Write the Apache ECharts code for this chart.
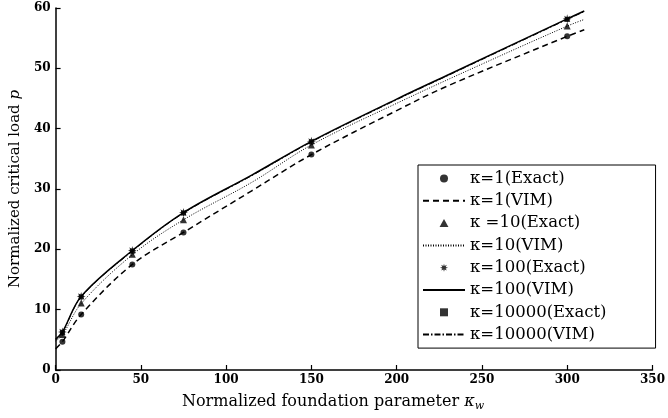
<!DOCTYPE html>
<html>
<head>
<meta charset="utf-8">
<script src="https://cdn.jsdelivr.net/npm/echarts@6/dist/echarts.min.js"></script>
<style>html,body{margin:0;padding:0;background:#fff;}#c{width:668px;height:418px;}</style>
</head>
<body>
<div id="c"></div>
<script>
// Exact points (kw, p)
const exact1     = [[4,4.7],[15,9.2],[45,17.5],[75,22.8],[150,35.7],[300,55.3]];
const exact10    = [[4,5.9],[15,11.1],[45,19.2],[75,24.9],[150,37.3],[300,57.0]];
const exact100   = [[4,6.3],[15,12.2],[45,19.8],[75,26.1],[150,37.9],[300,58.2]];
const exact10000 = [[4,6.2],[15,12.1],[45,19.7],[75,26.0],[150,37.8],[300,58.1]];
// VIM curves (kw, p)
const vim1     = [[0,3.5],[4,4.7],[15,9.2],[45,17.5],[75,22.8],[115,29.7],[150,35.7],[200,43.0],[230,47.1],[300,55.3],[310,56.4]];
const vim10    = [[0,4.8],[4,5.8],[15,11.0],[45,19.1],[75,24.9],[115,31.1],[150,37.3],[200,44.2],[250,50.7],[300,57.0],[310,58.1]];
const vim100   = [[0,5.1],[4,6.3],[15,12.2],[45,19.8],[75,26.1],[115,32.3],[150,37.9],[200,44.9],[230,48.9],[300,58.2],[310,59.5]];
const vim10000 = [[0,5.0],[4,6.2],[15,12.1],[45,19.7],[75,26.0],[115,32.2],[150,37.8],[200,44.8],[230,48.8],[300,58.1],[310,59.4]];
const legendNames = ['κ=1(Exact)','κ=1(VIM)','κ =10(Exact)','κ=10(VIM)','κ=100(Exact)','κ=100(VIM)','κ=10000(Exact)','κ=10000(VIM)'];

const SERIF = 'DejaVu Serif';
const STAR = 'path://M20 10 L14.2 11.7 L17.07 17.07 L11.7 14.2 L10 20 L8.3 14.2 L2.93 17.07 L5.8 11.7 L0 10 L5.8 8.3 L2.93 2.93 L8.3 5.8 L10 0 L11.7 5.8 L17.07 2.93 L14.2 8.3 Z';
const TRI = 'path://M5 0 L10 9 L0 9 Z';
const SQR = 'path://M0 0 L10 0 L10 10 L0 10 Z';
const DOT = 'path://M5 0 A5 5 0 1 1 4.99 0 Z';
const chart = echarts.init(document.getElementById('c'));
function sc(name, data, symbol, size){
  return {name, type:'scatter', data, symbol, symbolSize:size, symbolKeepAspect:true, itemStyle:{color:'#000'}, z:5};
}
function ln(name, data, type, width){
  return {name, type:'line', data, smooth:0.35, symbol:'none', showSymbol:false,
          lineStyle:{color:'#000', width, type}, itemStyle:{color:'#000'}};
}
const hidden = {color:'rgba(0,0,0,0)', borderWidth:0};
chart.setOption({
  animation:false,
  backgroundColor:'#fff',
  grid:{left:52, right:8, top:8, bottom:48},
  xAxis:{type:'value', min:0, max:350, interval:50,
    name:'{a|Normalized foundation parameter }{i|κ}{s|w}', nameLocation:'middle', nameGap:22,
    nameTextStyle:{padding:[0,42,0,0], rich:{
      a:{fontFamily:SERIF, fontSize:16, color:'#000', lineHeight:20},
      i:{fontFamily:SERIF, fontSize:16, color:'#000', fontStyle:'italic', lineHeight:20},
      s:{fontFamily:SERIF, fontSize:11, color:'#000', fontStyle:'italic', verticalAlign:'bottom', lineHeight:12}}},
    axisLine:{lineStyle:{color:'#000', width:1.5}},
    axisTick:{inside:true, length:5, lineStyle:{color:'#000', width:1.2}},
    axisLabel:{fontFamily:SERIF, fontSize:12, fontWeight:'bold', color:'#000', margin:4},
    splitLine:{show:false}},
  yAxis:{type:'value', min:0, max:60, interval:10,
    name:'{a|Normalized critical load }{i|p}', nameLocation:'middle', nameGap:30,
    nameTextStyle:{rich:{
      a:{fontFamily:SERIF, fontSize:15, color:'#000'},
      i:{fontFamily:SERIF, fontSize:15, color:'#000', fontStyle:'italic'}}},
    axisLine:{show:true, lineStyle:{color:'#000', width:1.5}},
    axisTick:{show:true, inside:true, length:5, lineStyle:{color:'#000', width:1.2}},
    axisLabel:{fontFamily:SERIF, fontSize:12, fontWeight:'bold', color:'#000', margin:5},
    splitLine:{show:false}},
  legend:{orient:'vertical', left:418, top:165,
    data:[
      {name:legendNames[0], icon:DOT},
      {name:legendNames[1], itemStyle:hidden},
      {name:legendNames[2], icon:TRI},
      {name:legendNames[3], itemStyle:hidden},
      {name:legendNames[4], icon:STAR},
      {name:legendNames[5], itemStyle:hidden},
      {name:legendNames[6], icon:SQR},
      {name:legendNames[7], itemStyle:hidden}
    ],
    symbolKeepAspect:true,
    itemWidth:42, itemHeight:8, itemGap:5.3,
    padding:[5,49,5,4],
    borderColor:'#000', borderWidth:1, backgroundColor:'#fff',
    textStyle:{fontFamily:SERIF, fontSize:16.5, color:'#000', lineHeight:16}},
  series:[
    sc(legendNames[0], exact1, 'circle', 6),
    ln(legendNames[1], vim1, [6,4], 1.5),
    sc(legendNames[2], exact10, 'triangle', 7),
    ln(legendNames[3], vim10, [1,1.5], 1),
    sc(legendNames[4], exact100, STAR, 9),
    ln(legendNames[5], vim100, 'solid', 1.5),
    sc(legendNames[6], exact10000, 'rect', 5),
    ln(legendNames[7], vim10000, [6,2,1.5,2], 1)
  ]
});
</script>
</body>
</html>
